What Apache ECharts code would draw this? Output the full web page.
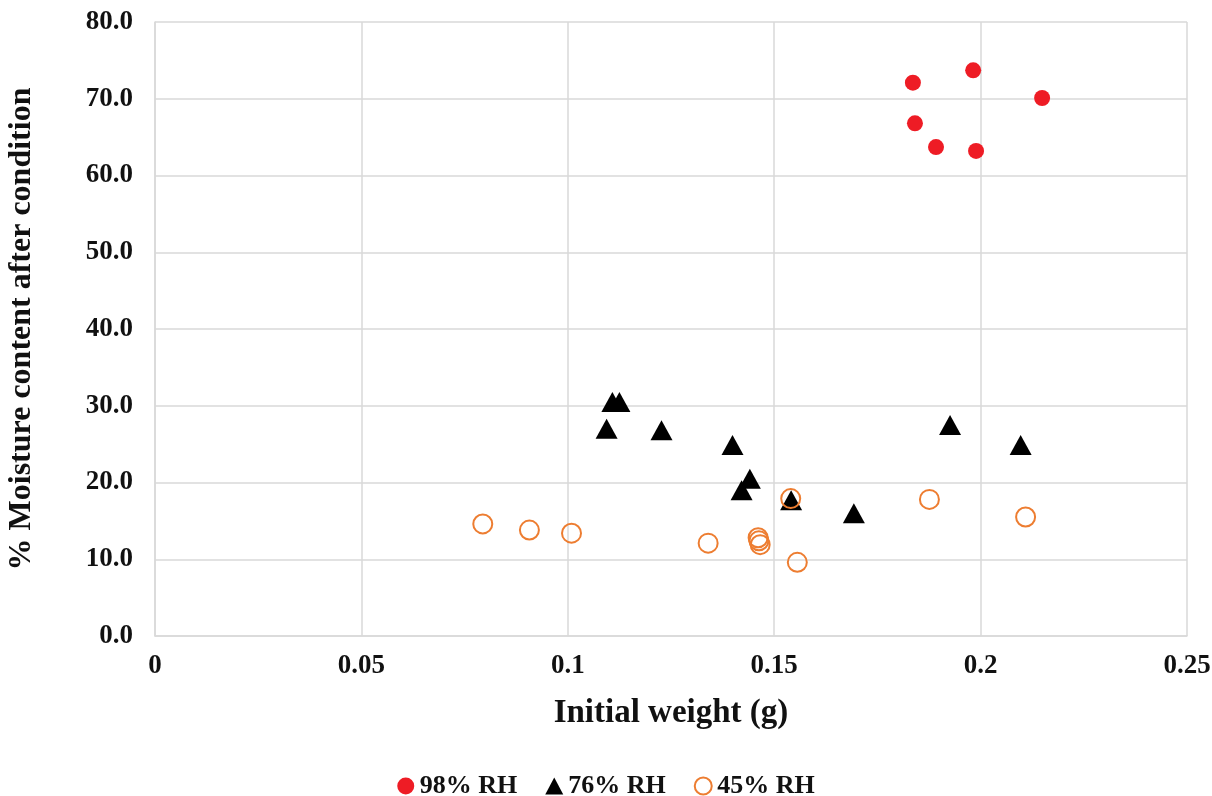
<!DOCTYPE html>
<html>
<head>
<meta charset="utf-8">
<script src="https://cdn.jsdelivr.net/npm/echarts@6/dist/echarts.min.js"></script>
<style>html,body{margin:0;padding:0;background:#fff;}#c{width:1212px;height:796px;}</style>
</head>
<body>
<div id="c"></div>
<script>
const rh98 = [[0.1836,72.1],[0.1982,73.7],[0.2149,70.1],[0.1841,66.8],[0.1892,63.7],[0.1989,63.2]];
const rh76 = [[0.1108,30.5],[0.1125,30.5],[0.1094,27.0],[0.1227,26.8],[0.1399,24.9],[0.1441,20.5],[0.1421,19.0],[0.1541,17.7],[0.1693,16.0],[0.1926,27.5],[0.2097,24.9]];
const rh45 = [[0.0794,14.6],[0.0907,13.8],[0.1009,13.4],[0.1340,12.1],[0.1461,12.8],[0.1463,12.4],[0.1466,11.9],[0.1556,9.6],[0.1540,17.9],[0.1876,17.8],[0.2109,15.5]];
const seriesNames = ['98% RH','76% RH','45% RH'];
const xTicks = {min:0, max:0.25, interval:0.05};
const yTicks = {min:0, max:80, interval:10};

const font = '"Liberation Serif","Times New Roman",serif';
const chart = echarts.init(document.getElementById('c'));
chart.setOption({
  animation:false,
  backgroundColor:'#fff',
  grid:{left:155,right:25,top:22,bottom:160,containLabel:false,outerBoundsMode:'none'},
  xAxis:{
    type:'value', min:xTicks.min, max:xTicks.max, interval:xTicks.interval,
    name:'Initial weight (g)', nameLocation:'middle', nameGap:61,
    nameTextStyle:{fontFamily:font,fontWeight:'bold',fontSize:33,color:'#111'},
    axisLine:{show:true,lineStyle:{color:'#d9d9d9',width:1.5}},
    axisTick:{show:false},
    axisLabel:{fontFamily:font,fontWeight:'bold',fontSize:27,color:'#111',margin:17},
    splitLine:{show:true,lineStyle:{color:'#d9d9d9',width:1.5}}
  },
  yAxis:{
    type:'value', min:yTicks.min, max:yTicks.max, interval:yTicks.interval,
    name:'% Moisture content after condition', nameLocation:'middle', nameGap:117,
    nameTextStyle:{fontFamily:font,fontWeight:'bold',fontSize:32,color:'#111'},
    axisLine:{show:true,lineStyle:{color:'#d9d9d9',width:1.5}},
    axisTick:{show:false},
    axisLabel:{fontFamily:font,fontWeight:'bold',fontSize:27,color:'#111',margin:22,formatter:v=>v.toFixed(1)},
    splitLine:{show:true,lineStyle:{color:'#d9d9d9',width:1.5}}
  },
  legend:{
    top:768, left:'center', itemGap:28, itemWidth:18, itemHeight:17,
    textStyle:{fontFamily:font,fontWeight:'bold',fontSize:26,color:'#111'},
    data:seriesNames
  },
  series:[
    {name:seriesNames[0],type:'scatter',data:rh98,symbol:'circle',symbolSize:16,itemStyle:{color:'#EE1C25',opacity:1}},
    {name:seriesNames[1],type:'scatter',data:rh76,symbol:'triangle',symbolSize:[22,20],itemStyle:{color:'#000',opacity:1}},
    {name:seriesNames[2],type:'scatter',data:rh45,symbol:'circle',symbolSize:19,itemStyle:{color:'rgba(0,0,0,0)',borderColor:'#ED7D31',borderWidth:2,opacity:1}}
  ]
});
</script>
</body>
</html>
